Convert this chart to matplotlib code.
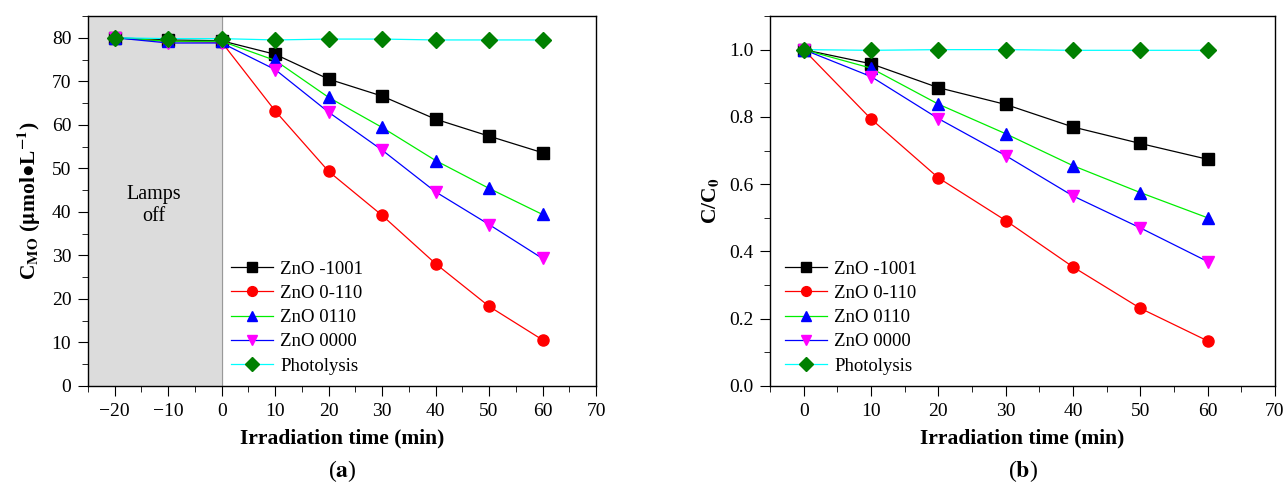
import matplotlib
matplotlib.use("Agg")
import matplotlib.pyplot as plt
from matplotlib.ticker import MultipleLocator, FormatStrFormatter

plt.rcParams['font.family'] = ['Liberation Serif', 'DejaVu Serif']
plt.rcParams['mathtext.fontset'] = 'stix'

# Panel (a) data
time_a = [-20, -10, 0, 10, 20, 30, 40, 50, 60]
a_1001 = [80, 79.5, 79.3, 76.2, 70.5, 66.6, 61.3, 57.4, 53.6]
a_0m110 = [80, 79.2, 79.0, 63.2, 49.3, 39.2, 28.1, 18.3, 10.6]
a_0110 = [80, 79.2, 79.2, 74.8, 66.3, 59.4, 51.8, 45.4, 39.4]
a_0000 = [80, 78.8, 78.8, 72.7, 62.9, 54.2, 44.6, 37.1, 29.3]
a_photo = [80, 79.8, 79.8, 79.5, 79.7, 79.7, 79.5, 79.5, 79.5]

# Panel (b) data
time_b = [0, 10, 20, 30, 40, 50, 60]
b_1001 = [1.0, 0.958, 0.887, 0.837, 0.770, 0.721, 0.674]
b_0m110 = [1.0, 0.794, 0.619, 0.492, 0.354, 0.231, 0.134]
b_0110 = [1.0, 0.945, 0.838, 0.750, 0.655, 0.575, 0.500]
b_0000 = [1.0, 0.920, 0.795, 0.685, 0.565, 0.470, 0.370]
b_photo = [1.0, 0.998, 1.0, 1.0, 0.998, 0.998, 0.998]

labels = ['ZnO -1001', 'ZnO 0-110', 'ZnO 0110', 'ZnO 0000', 'Photolysis']
xtick_a = ['\u221220', '\u221210', '0', '10', '20', '30', '40', '50', '60', '70']

styles = [
    dict(color='black', marker='s', mfc='black', mec='black'),
    dict(color='red', marker='o', mfc='red', mec='red'),
    dict(color='#00ee00', marker='^', mfc='blue', mec='blue'),
    dict(color='blue', marker='v', mfc='magenta', mec='magenta'),
    dict(color='cyan', marker='D', mfc='green', mec='green'),
]

fig = plt.figure(figsize=(12.85, 4.83), dpi=100)
W, H = 1285, 483
axa = fig.add_axes([88 / W, 1 - 386 / H, (596 - 88) / W, (386 - 16) / H])
axb = fig.add_axes([770 / W, 1 - 386 / H, (1275 - 770) / W, (386 - 16) / H])

def style_axis(ax):
    ax.tick_params(which='both', direction='out', top=False, right=False, labelsize=14)
    ax.tick_params(which='major', length=7, pad=5)
    ax.tick_params(which='minor', length=4)
    for s in ax.spines.values():
        s.set_linewidth(1.0)

leg_kw = dict(loc='lower left', frameon=False, fontsize=13.5, handlelength=2.2,
              labelspacing=0.38, borderpad=0.1, handletextpad=0.4, markerscale=0.88)

# Panel (a)
axa.axvspan(-25, 0, color='#dcdcdc', zorder=0)
axa.axvline(0, color='#999999', lw=0.8, zorder=1)
series_a = [a_1001, a_0m110, a_0110, a_0000, a_photo]
for lab, ys, st in zip(labels, series_a, styles):
    axa.plot(time_a, ys, lw=0.9, ms=8, label=lab, **st)
axa.set_xlim(-25, 70)
axa.set_ylim(0, 85)
axa.set_xticks(range(-20, 71, 10))
axa.set_xticklabels(xtick_a)
axa.xaxis.set_minor_locator(MultipleLocator(5))
axa.yaxis.set_major_locator(MultipleLocator(10))
axa.yaxis.set_minor_locator(MultipleLocator(5))
style_axis(axa)
axa.text(-12.7, 41.5, 'Lamps\noff', ha='center', va='center', fontsize=14.5, linespacing=1.25)
axa.set_xlabel('Irradiation time (min)', fontsize=15.5, fontweight='bold', labelpad=6)
axa.set_ylabel(r'C$_{\mathbf{MO}}$ ($\mathbf{\mu}$mol$\mathbf{\bullet}$L$^{\mathbf{-1}}$)',
               fontsize=15.5, fontweight='bold', labelpad=6)
axa.legend(bbox_to_anchor=(0.26, 0.0), **leg_kw)
fig.text((88 + 596) / 2 / W, 1 - 471 / H, r'($\mathbf{a}$)', ha='center', va='center', fontsize=17)

# Panel (b)
series_b = [b_1001, b_0m110, b_0110, b_0000, b_photo]
for lab, ys, st in zip(labels, series_b, styles):
    axb.plot(time_b, ys, lw=0.9, ms=8, label=lab, **st)
axb.set_xlim(-5, 70)
axb.set_ylim(0, 1.1)
axb.xaxis.set_major_locator(MultipleLocator(10))
axb.xaxis.set_minor_locator(MultipleLocator(5))
axb.yaxis.set_major_locator(MultipleLocator(0.2))
axb.yaxis.set_minor_locator(MultipleLocator(0.1))
axb.yaxis.set_major_formatter(FormatStrFormatter('%.1f'))
style_axis(axb)
axb.set_xlabel('Irradiation time (min)', fontsize=15.5, fontweight='bold', labelpad=6)
axb.set_ylabel(r'C/C$_{\mathbf{0}}$', fontsize=15.5, fontweight='bold', labelpad=6)
axb.legend(bbox_to_anchor=(0.008, 0.0), **leg_kw)
fig.text((770 + 1275) / 2 / W, 1 - 471 / H, r'($\mathbf{b}$)', ha='center', va='center', fontsize=17)

fig.savefig('out.png', dpi=100)
